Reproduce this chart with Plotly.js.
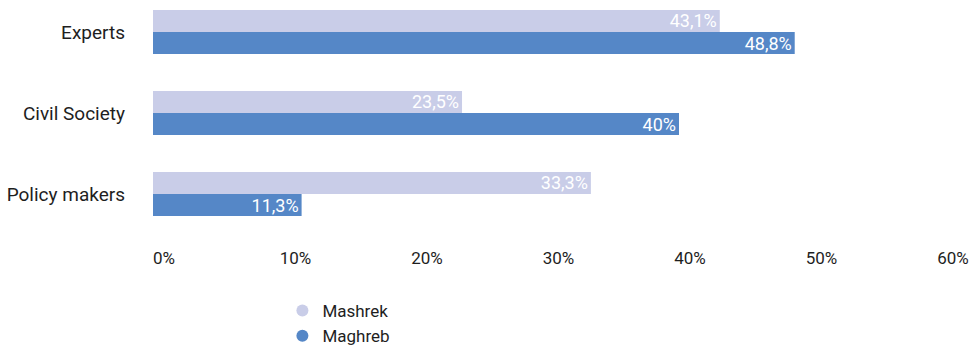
<!DOCTYPE html>
<html>
<head>
<meta charset="utf-8">
<script src="https://cdn.plot.ly/plotly-3.0.1.min.js"></script>
<style>html,body{margin:0;padding:0;background:#fff;}#chart{width:971px;height:352px;}</style>
</head>
<body>
<div id="chart"></div>
<script>
const categories = ["Experts", "Civil Society", "Policy makers"];
const mashrek = [43.1, 23.5, 33.3];
const maghreb = [48.8, 40, 11.3];
const seriesNames = ["Mashrek", "Maghreb"];
const xTickVals = [0, 10, 20, 30, 40, 50, 60];
const xTickText = ["0%", "10%", "20%", "30%", "40%", "50%", "60%"];

const colMashrek = "#c9cde8";
const colMaghreb = "#5587c7";
const fmt = v => String(v).replace(".", ",") + "%";

const barCommon = {
  type: "bar", orientation: "h", showlegend: false,
  textposition: "inside", insidetextanchor: "end", constraintext: "none",
  textfont: {family: "Roboto", size: 18, color: "#ffffff"},
  hoverinfo: "none", cliponaxis: false
};

const data = [
  Object.assign({}, barCommon, {name: seriesNames[0], y: categories, x: mashrek, text: mashrek.map(fmt), marker: {color: colMashrek}}),
  Object.assign({}, barCommon, {name: seriesNames[1], y: categories, x: maghreb, text: maghreb.map(fmt), marker: {color: colMaghreb}}),
  {type: "scatter", mode: "markers", x: [null], y: [null], name: seriesNames[0], legendgroup: "a", marker: {color: colMashrek, size: 13, symbol: "circle"}, showlegend: true, hoverinfo: "none"},
  {type: "scatter", mode: "markers", x: [null], y: [null], name: seriesNames[1], legendgroup: "b", marker: {color: colMaghreb, size: 13, symbol: "circle"}, showlegend: true, hoverinfo: "none"}
];

const layout = {
  width: 971, height: 352,
  margin: {l: 153, r: 29, t: 0, b: 107, pad: 0, autoexpand: false},
  paper_bgcolor: "#ffffff", plot_bgcolor: "#ffffff",
  barmode: "group", bargap: 0.455, bargroupgap: 0,
  xaxis: {
    range: [0, 60], tickvals: xTickVals, ticktext: xTickText,
    showgrid: false, zeroline: false, showline: false, ticks: "",
    ticklabelshift: 11, ticklabelstandoff: 1,
    tickfont: {family: "Roboto", size: 17, color: "#1e1e1e"},
    fixedrange: true
  },
  yaxis: {
    type: "category", autorange: false, range: [2.63, -0.395],
    showgrid: false, zeroline: false, showline: false, ticks: "",
    ticklabelstandoff: 27,
    tickfont: {family: "Roboto", size: 19, color: "#1e1e1e"},
    fixedrange: true
  },
  showlegend: true,
  legend: {
    orientation: "v", x: 0.164, xanchor: "left", y: -0.196, yanchor: "top",
    font: {family: "Roboto", size: 17, color: "#1e1e1e"},
    itemsizing: "constant", tracegroupgap: 0, bgcolor: "rgba(0,0,0,0)"
  },
  font: {family: "Roboto"}
};

Plotly.newPlot("chart", data, layout, {displayModeBar: false, staticPlot: true});
</script>
</body>
</html>
